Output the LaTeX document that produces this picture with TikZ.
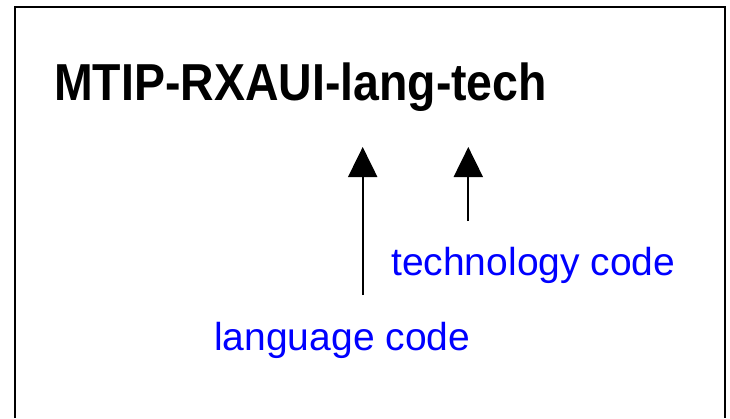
\documentclass[tikz,border=0pt]{standalone}
\usepackage{fontspec}
\setmainfont{Liberation Sans}
\usepackage{graphicx}
\usetikzlibrary{arrows.meta}
\usetikzlibrary{positioning}

\begin{document}
\begin{tikzpicture}[x=0.75pt,y=-0.75pt,
      name style/.style={anchor=base west,inner sep=0pt,
        font=\fontsize{39}{41}\selectfont\bfseries},
      code style/.style={anchor=base west,inner sep=0pt,text=blue,
        font=\fontsize{29.25}{32}\selectfont},
      pointer/.style={line width=1.5pt,-{Triangle[length=22.5pt,width=21.75pt]}}
      ]
      \useasboundingbox (0,0) rectangle (730,418);
      \draw[line width=1.5pt] (14.5,418) -- (14.5,7) -- (724.5,7) -- (724.5,418);
      \node[name style] (name) at (54,100) {\scalebox{0.893}[1]{MTIP-RXAUI-lang-tech}};
      \node[code style] (tech) at (391,275) {technology code};
      \node[code style] (lang) at (214,350) {language code};
      \coordinate (langfoot) at (362.7,295);
      \coordinate (langhead) at (362.7,147);
      \coordinate (techfoot) at (468.3,221);
      \coordinate (techhead) at (468.3,147);
      \draw[pointer] (langfoot) -- (langhead);
      \draw[pointer] (techfoot) -- (techhead);
    \end{tikzpicture}
\end{document}
